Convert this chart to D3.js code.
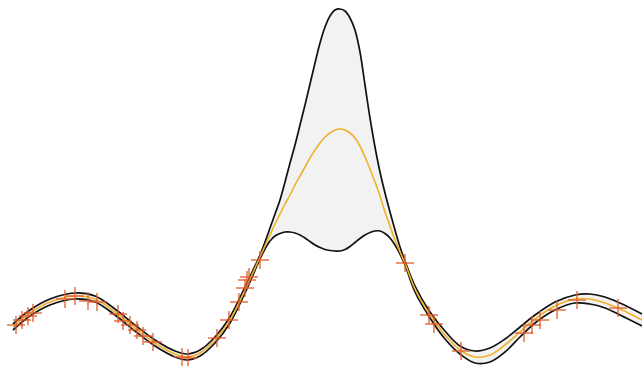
<!DOCTYPE html>
<html>
<head>
<meta charset="utf-8">
<script src="https://cdn.jsdelivr.net/npm/d3@7"></script>
<style>
  html, body { margin: 0; padding: 0; background: #fff; }
  svg { display: block; }
</style>
</head>
<body>
<svg id="chart" width="642" height="366"></svg>
<script>
// Prediction grid (x) with posterior mean and confidence band
const gridX = [-6.50, -6.16, -5.76, -5.26, -4.86, -4.46, -4.06, -3.66, -3.26, -3.02,
  -2.76, -2.46, -2.16, -1.86,
  -1.56, -1.46, -1.36, -1.26, -1.16, -1.06, -0.96, -0.86, -0.76, -0.66,
  -0.56, -0.46, -0.36, -0.26, -0.16, -0.06, 0.04, 0.14, 0.24, 0.34,
  0.44, 0.54, 0.64, 0.74, 0.84, 0.94, 1.04, 1.14, 1.24, 1.34,
  1.54, 1.84, 2.14, 2.44, 2.74, 3.04, 3.34, 3.64, 3.94, 4.34,
  4.74, 5.04, 5.34, 5.64, 6.08];
const upperY = [-0.48, -0.20, 0.02, 0.14, 0.08, -0.18, -0.50, -0.80, -1.02, -1.08,
  -1.00, -0.74, -0.34, 0.26,
  0.90, 1.16, 1.44, 1.72, 2.00, 2.36, 2.74, 3.10, 3.50, 3.90,
  4.32, 4.74, 5.14, 5.46, 5.68, 5.80, 5.82, 5.78, 5.64, 5.40,
  4.96, 4.30, 3.64, 3.06, 2.56, 2.14, 1.76, 1.40, 1.06, 0.78,
  0.28, -0.24, -0.62, -0.92, -1.02, -0.96, -0.78, -0.54, -0.30, -0.04,
  0.10, 0.12, 0.06, -0.06, -0.28];
const meanY = [-0.54, -0.26, -0.04, 0.08, 0.02, -0.24, -0.56, -0.86, -1.08, -1.14,
  -1.06, -0.80, -0.40, 0.20,
  0.86, 1.08, 1.30, 1.52, 1.72, 1.92, 2.10, 2.30, 2.48, 2.66,
  2.84, 3.00, 3.14, 3.26, 3.34, 3.40, 3.42, 3.40, 3.34, 3.24,
  3.08, 2.86, 2.62, 2.36, 2.08, 1.76, 1.48, 1.20, 0.96, 0.74,
  0.22, -0.30, -0.70, -1.00, -1.14, -1.10, -0.90, -0.64, -0.38, -0.12,
  0.02, 0.02, -0.06, -0.18, -0.40];
const lowerY = [-0.60, -0.32, -0.10, 0.02, -0.04, -0.30, -0.62, -0.92, -1.14, -1.20,
  -1.12, -0.86, -0.46, 0.14,
  0.82, 1.02, 1.18, 1.28, 1.33, 1.36, 1.36, 1.34, 1.30, 1.24,
  1.17, 1.10, 1.05, 1.01, 0.99, 0.98, 0.98, 1.01, 1.07, 1.15,
  1.23, 1.30, 1.35, 1.38, 1.38, 1.33, 1.24, 1.10, 0.92, 0.70,
  0.16, -0.36, -0.78, -1.08, -1.26, -1.24, -1.04, -0.74, -0.46, -0.20,
  -0.06, -0.08, -0.16, -0.30, -0.52];

// Observations
const obsX = [-6.44, -6.32, -6.20, -6.10, -5.46, -5.26, -5.00, -4.82, -4.40, -4.30,
  -4.16, -4.02, -3.90, -3.70, -3.12, -3.00, -2.42, -2.18, -1.98, -1.86,
  -1.82, -1.78, -1.56, 1.34, 1.82, 1.92, 2.46, 3.72, 3.88, 4.04,
  4.38, 4.78, 5.60];
const obsY = [-0.50, -0.40, -0.32, -0.26, 0.02, 0.08, -0.02, -0.04, -0.28, -0.42,
  -0.50, -0.60, -0.72, -0.84, -1.14, -1.16, -0.76, -0.40, -0.04, 0.24,
  0.40, 0.46, 0.80, 0.74, -0.30, -0.48, -1.02, -0.66, -0.50, -0.40,
  -0.20, 0.00, -0.16];

const W = 642, H = 366;
const svg = d3.select('#chart');

const x = d3.scaleLinear().domain([-6.76, 6.08]).range([0, W]);
const y = d3.scaleLinear().domain([-1.32, 6.0]).range([H, 0]);

const rows = gridX.map((gx, i) => ({ x: gx, up: upperY[i], m: meanY[i], lo: lowerY[i] }));
const obs = obsX.map((ox, i) => ({ x: ox, y: obsY[i] }));

const curve = d3.curveCatmullRom.alpha(0.5);

svg.append('path')
  .datum(rows)
  .attr('fill', '#f2f2f2')
  .attr('d', d3.area().curve(curve).x(d => x(d.x)).y0(d => y(d.lo)).y1(d => y(d.up)));

const line = key => d3.line().curve(curve).x(d => x(d.x)).y(d => y(d[key]));

['up', 'lo'].forEach(k => {
  svg.append('path')
    .datum(rows)
    .attr('fill', 'none')
    .attr('stroke', '#111')
    .attr('stroke-width', 1.7)
    .attr('d', line(k));
});

svg.append('path')
  .datum(rows)
  .attr('fill', 'none')
  .attr('stroke', '#f0b228')
  .attr('stroke-width', 1.6)
  .attr('d', line('m'));

const arm = 9;
const g = svg.append('g')
  .attr('stroke', '#e0592a')
  .attr('stroke-opacity', 0.85)
  .attr('stroke-width', 1.5);
obs.forEach(d => {
  const cx = x(d.x), cy = y(d.y);
  g.append('path')
    .attr('d', `M${cx - arm},${cy}H${cx + arm}M${cx},${cy - arm}V${cy + arm}`);
});
</script>
</body>
</html>
